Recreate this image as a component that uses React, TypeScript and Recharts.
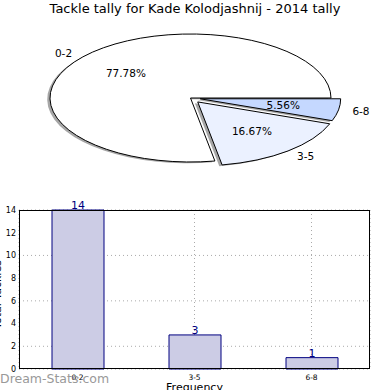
import React from 'react';
import { PieChart, Pie, Cell, BarChart, Bar, XAxis, YAxis, CartesianGrid, LabelList, Label } from 'recharts';

const categories = ['0-2', '3-5', '6-8'];
const tallies = [14, 3, 1];
const sliceColors = ['#ffffff', '#ebf1ff', '#c5d8ff'];
const explode = [0, 0.08, 0.07];
const yTicks = [0, 2, 4, 6, 8, 10, 12, 14];

const data = categories.map((name, i) => ({ name, value: tallies[i], idx: i }));

const FONT = '"DejaVu Sans", sans-serif';
const SQUASH = 64 / 140.5; // matplotlib pie drawn on non-equal axes -> ellipse
const RAD = Math.PI / 180;

function shift(idx: number, mid: number, r: number) {
  const e = explode[idx] || 0;
  return { dx: e * r * Math.cos(mid * RAD), dy: -e * r * SQUASH * Math.sin(mid * RAD) };
}

function wedgePath(cx: number, cy: number, r: number, a0: number, a1: number) {
  const ry = r * SQUASH;
  const x0 = cx + r * Math.cos(a0 * RAD);
  const y0 = cy - ry * Math.sin(a0 * RAD);
  const x1 = cx + r * Math.cos(a1 * RAD);
  const y1 = cy - ry * Math.sin(a1 * RAD);
  const large = Math.abs(a1 - a0) > 180 ? 1 : 0;
  return `M${cx},${cy} L${x0},${y0} A${r},${ry} 0 ${large} 0 ${x1},${y1} Z`;
}

const EllipseWedge = (props: any) => {
  const { cx, cy, outerRadius, startAngle, endAngle, fill } = props;
  const mid = props.midAngle ?? (startAngle + endAngle) / 2;
  const idx = props.payload?.idx ?? props.idx ?? props.index ?? 0;
  const { dx, dy } = shift(idx, mid, outerRadius);
  const sx = -0.02 * outerRadius;
  const sy = 0.02 * outerRadius * SQUASH;
  return (
    <g>
      <path d={wedgePath(cx + dx + sx, cy + dy + sy, outerRadius, startAngle, endAngle)} fill="#4d4d4d" fillOpacity={0.5} stroke="none" />
      <path d={wedgePath(cx + dx, cy + dy, outerRadius, startAngle, endAngle)} fill={fill} stroke="#000" strokeWidth={1} />
    </g>
  );
};

const renderPieLabel = (props: any) => {
  const { cx, cy, outerRadius, midAngle, percent, name, index } = props;
  const r = outerRadius;
  const { dx, dy } = shift(index, midAngle, r);
  const c = Math.cos(midAngle * RAD);
  const s = Math.sin(midAngle * RAD);
  const lx = cx + dx + 1.1 * r * c;
  const ly = cy + dy - 1.1 * r * SQUASH * s;
  const px = cx + dx + 0.6 * r * c;
  const py = cy + dy - 0.6 * r * SQUASH * s;
  return (
    <g fontFamily={FONT} fontSize={10.5} fill="#000">
      <text x={lx} y={ly} textAnchor={c > 0 ? 'start' : 'end'} dominantBaseline="central">{name}</text>
      <text x={px} y={py} textAnchor="middle" dominantBaseline="central">{(percent * 100).toFixed(2)}%</text>
    </g>
  );
};

export default function App() {
  return (
    <div style={{ position: 'fixed', left: 0, top: 0, width: 390, height: 390, background: '#fff', overflow: 'hidden', fontFamily: FONT }}>
      <div style={{ position: 'absolute', top: 1, left: 0, width: 390, textAlign: 'center', fontSize: 13, color: '#000' }}>
        Tackle tally for Kade Kolodjashnij - 2014 tally
      </div>
      <div style={{ position: 'absolute', top: 0, left: 0 }}>
        <PieChart width={390} height={195} margin={{ top: 0, right: 0, bottom: 0, left: 0 }}>
          <Pie
            data={data}
            dataKey="value"
            nameKey="name"
            cx={190.5}
            cy={98}
            outerRadius={140.5}
            startAngle={0}
            endAngle={360}
            shape={EllipseWedge}
            activeShape={EllipseWedge}
            label={renderPieLabel}
            labelLine={false}
            isAnimationActive={false}
          >
            {data.map((d, i) => (
              <Cell key={d.name} fill={sliceColors[i]} />
            ))}
          </Pie>
        </PieChart>
      </div>
      <div style={{ position: 'absolute', top: 195, left: 0 }}>
        <BarChart width={390} height={195} data={data} margin={{ top: 15, right: 20, left: 0, bottom: 0 }}>
          <CartesianGrid stroke="#aaaaaa" strokeDasharray="1 3" />
          <XAxis dataKey="name" height={21} interval={0} tickLine={false} axisLine={false} tickSize={0} tickMargin={6}
            tick={{ fontSize: 7.5, fill: '#000', fontFamily: FONT }}>
            <Label value="Frequency" position="bottom" offset={-7} fontSize={11} fill="#000" fontFamily={FONT} />
          </XAxis>
          <YAxis width={19} domain={[0, 14]} ticks={yTicks} tickLine={false} axisLine={false} tickSize={0} tickMargin={3}
            tick={{ fontSize: 8, fill: '#000', fontFamily: FONT }}>
            <Label
              content={({ viewBox }: any) => {
                const yc = viewBox.y + viewBox.height / 2 + 5;
                return (
                  <text x={1} y={yc} transform={`rotate(-90 1 ${yc})`} textAnchor="middle" fontSize={11} fontFamily={FONT} fill="#000">
                    Total Tackles
                  </text>
                );
              }}
            />
          </YAxis>
          <Bar dataKey="value" fill="#ccccE5" stroke="#000080" strokeWidth={1} barSize={52} isAnimationActive={false}>
            <LabelList dataKey="value" position="top" offset={1} fill="#000080" fontSize={11} fontFamily={FONT} />
          </Bar>
        </BarChart>
      </div>
      <div style={{ position: 'absolute', left: 19, top: 210, width: 351, height: 159, border: '1px solid #000', boxSizing: 'border-box', pointerEvents: 'none' }} />
      <div style={{ position: 'absolute', left: 0, top: 371, fontSize: 12.5, color: '#999', lineHeight: '16px' }}>
        Dream-Stats.com
      </div>
    </div>
  );
}
